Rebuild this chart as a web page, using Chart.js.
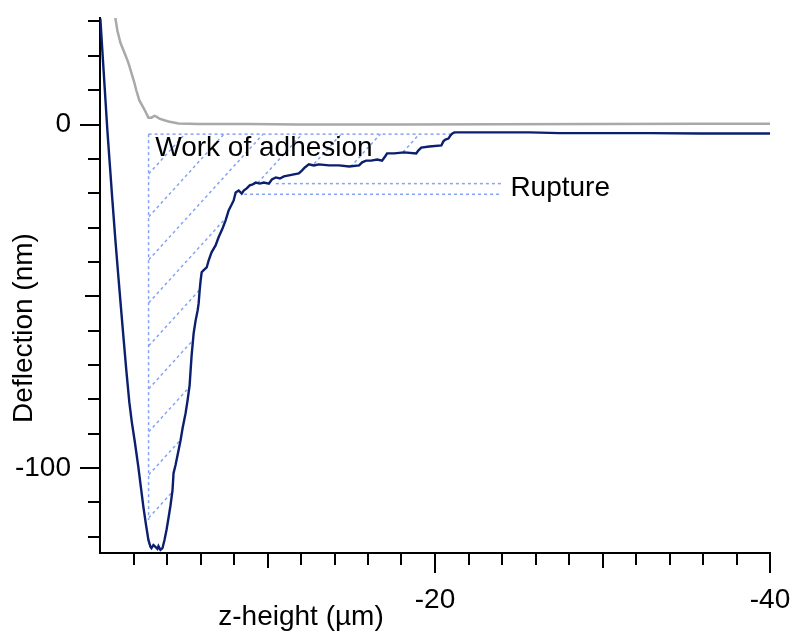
<!DOCTYPE html>
<html>
<head>
<meta charset="utf-8">
<script src="https://cdn.jsdelivr.net/npm/chart.js@4.4.0/dist/chart.umd.min.js"></script>
<style>
  html, body { margin: 0; padding: 0; background: #fff; }
</style>
</head>
<body>
<canvas id="chart_fd" width="794" height="633"></canvas>
<script>
// approach curve (grey)
const approach_z = [-0.90, -1.04, -1.22, -1.46, -1.69, -1.87, -2.05, -2.17, -2.35, -2.59, -2.77, -2.89, -3.07, -3.25,
    -3.37, -3.55, -3.79, -4.09, -4.39, -4.69, -5.89, -8.88, -11.87, -17.86, -23.85, -29.8, -35.8, -40.0]
const approach_defl = [31.5, 27.3, 23.8, 20.9, 18.0, 15.1, 12.2, 9.9, 7.0, 4.9, 3.2, 2.0, 2.0, 2.5,
    2.3, 1.7, 1.3, 0.9, 0.6, 0.3, 0.15, 0.15, 0.0, 0.0, 0.05, 0.15, 0.2, 0.2]

// retract curve (navy)
const retract_z = [
    -0.02, -0.14, -0.29, -0.44, -0.59, -0.74, -0.92, -1.10, -1.25, -1.40, -1.57, -1.75, -1.90, -2.08, -2.29, -2.44, -2.59, -2.74, -2.89, -3.01,
    -3.07, -3.19, -3.31, -3.43, -3.49, -3.61, -3.73, -3.85, -3.97,
    -4.09, -4.21, -4.33, -4.39, -4.51, -4.69, -4.81, -4.93, -5.11, -5.23, -5.35, -5.41, -5.47, -5.59, -5.71, -5.83, -5.89, -5.95, -6.01, -6.07,
    -6.19, -6.37, -6.49, -6.66, -6.90, -7.08, -7.32, -7.50, -7.68, -7.86, -7.98, -8.10, -8.28, -8.46, -8.58, -8.76, -8.94, -9.12, -9.30, -9.54,
    -9.78, -10.08, -10.26, -10.50, -10.74, -10.98, -11.28, -11.57, -11.87, -12.05, -12.23, -12.47, -12.77, -13.07, -13.67, -14.27, -14.87, -15.47, -15.65, -15.89,
    -16.19, -16.55, -16.84, -17.02, -17.14, -17.56, -18.16, -18.88, -19.00, -19.18, -19.66, -20.38, -20.50, -20.62, -20.80, -20.92, -21.04, -21.16,
    -22.05, -23.85, -25.65, -27.44, -29.84, -32.83, -35.83, -38.22, -40.0]
const retract_defl = [
    30.8, 21.5, 9.9, -1.7, -11.9, -22.1, -33.7, -44.5, -53.2, -61.9, -71.5, -80.8, -86.6, -92.4, -99.7, -105.5, -111.3, -116.3, -120.9, -122.9,
    -123.3, -122.4, -122.9, -123.5, -122.7, -123.8, -123.3, -120.9, -118.0,
    -114.5, -110.8, -106.4, -101.5, -99.1, -94.8, -91.9, -88.4, -84.0, -80.2, -75.9, -71.5, -67.2, -60.8, -57.0, -54.1, -52.0, -48.3, -45.3, -43.0,
    -42.4, -41.6, -39.5, -37.2, -35.2, -32.8, -30.2, -27.9, -25.0, -23.3, -22.1, -19.8, -19.2, -20.1, -19.2, -18.6, -17.7, -17.4, -16.9, -17.2,
    -16.9, -17.2, -16.0, -15.4, -15.7, -15.1, -14.8, -14.5, -14.2, -13.4, -12.5, -11.6, -11.9, -11.6, -11.9, -11.9, -12.2, -11.9, -11.0, -10.5,
    -10.5, -10.2, -10.5, -9.3, -8.4, -8.4, -8.1, -8.4, -7.6, -6.7, -6.4, -6.1, -4.9, -4.4, -4.1, -3.2, -2.6, -2.3,
    -2.3, -2.3, -2.3, -2.5, -2.5, -2.5, -2.6, -2.6, -2.6]

// levels used for the adhesion area and the rupture marks
const baseline_defl = -2.8
const contact_z = -2.9
const contact_bottom_defl = -115.1
const rupture_end_z = -21.0
const rupture_defl = [-17.2, -20.3]
const rupture_start_z = [-10.5, -8.6]
const rupture_stop_z = -24.0

const x_tick_labels = [-20, -40]
const y_tick_labels = [0, -100]

const font_family = "'Liberation Sans', Arial, sans-serif"
const dash_color = '#86a2f6'

function zip_points(xs, ys) {
    let pts = []
    for (let i = 0; i < xs.length; i++) {
        pts.push({ x: xs[i], y: ys[i] })
    }
    return pts
}

function dashed_line(points) {
    return {
        data: points,
        borderColor: dash_color,
        borderWidth: 1.5,
        borderDash: [3, 3],
        pointRadius: 0,
        order: 2
    }
}

// keep the plot box fixed, labels may run past it
function fix_scale(scale, size) {
    if (scale.isHorizontal()) scale.height = size
    else scale.width = size
    scale.paddingTop = 0
    scale.paddingBottom = 0
    scale.paddingLeft = 0
    scale.paddingRight = 0
}

// diagonal hatch inside the area between the retract curve and the baseline
const hatch_plugin = {
    id: 'hatch',
    beforeDatasetsDraw(chart) {
        const ctx = chart.ctx
        const sx = chart.scales.x
        const sy = chart.scales.y
        let i_min = 0
        for (let i = 1; i < retract_defl.length; i++) {
            if (retract_defl[i] < retract_defl[i_min]) i_min = i
        }
        ctx.save()
        ctx.beginPath()
        ctx.moveTo(sx.getPixelForValue(contact_z), sy.getPixelForValue(baseline_defl))
        ctx.lineTo(sx.getPixelForValue(contact_z), sy.getPixelForValue(contact_bottom_defl))
        for (let i = i_min; i < retract_z.length && retract_z[i] >= rupture_end_z; i++) {
            if (retract_defl[i] < contact_bottom_defl) continue
            ctx.lineTo(sx.getPixelForValue(retract_z[i]), sy.getPixelForValue(retract_defl[i]))
        }
        ctx.lineTo(sx.getPixelForValue(rupture_end_z), sy.getPixelForValue(baseline_defl))
        ctx.closePath()
        ctx.clip()

        ctx.strokeStyle = dash_color
        ctx.lineWidth = 1.5
        ctx.setLineDash([3, 3])
        const x0 = sx.getPixelForValue(contact_z)
        const y0 = sy.getPixelForValue(contact_bottom_defl) - 2
        const slope = 1.1
        const gap = 43
        for (let k = -2; k < 14; k++) {
            const ys = y0 - gap * k
            ctx.beginPath()
            ctx.moveTo(x0 - 20, ys + 20 * slope)
            ctx.lineTo(x0 + 700, ys - 700 * slope)
            ctx.stroke()
        }
        ctx.restore()
    }
}

// tick marks, annotation text and axis titles
const marks_plugin = {
    id: 'marks',
    afterDraw(chart) {
        const ctx = chart.ctx
        const sx = chart.scales.x
        const sy = chart.scales.y
        const area = chart.chartArea
        ctx.save()
        ctx.strokeStyle = '#000'
        ctx.lineWidth = 2
        ctx.beginPath()
        for (let v = -2; v >= -40; v -= 2) {
            let len = 12
            if (x_tick_labels.includes(v)) len = 20
            else if (v % 10 == 0) len = 15
            const px = Math.round(sx.getPixelForValue(v))
            ctx.moveTo(px, area.bottom)
            ctx.lineTo(px, area.bottom + len)
        }
        for (let v = -120; v <= 30; v += 10) {
            let len = 12
            if (y_tick_labels.includes(v)) len = 20
            else if (v % 50 == 0) len = 15
            const py = Math.round(sy.getPixelForValue(v))
            ctx.moveTo(area.left, py)
            ctx.lineTo(area.left - len, py)
        }
        ctx.stroke()

        ctx.fillStyle = '#000'
        ctx.font = '28px ' + font_family
        ctx.textBaseline = 'alphabetic'
        ctx.textAlign = 'left'
        ctx.fillText('Work of adhesion', sx.getPixelForValue(-3.3), sy.getPixelForValue(-9.3))
        ctx.fillText('Rupture', sx.getPixelForValue(-24.5), sy.getPixelForValue(-20.9))

        ctx.textAlign = 'center'
        ctx.fillText('z-height (µm)', 301, 625)
        ctx.translate(32, 328)
        ctx.rotate(-Math.PI / 2)
        ctx.fillText('Deflection (nm)', 0, 0)
        ctx.restore()
    }
}

function create_chart() {
    const canvas = document.querySelector('#chart_fd')
    new Chart(canvas, {
        type: 'line',
        data: {
            datasets: [
                {
                    data: zip_points(retract_z, retract_defl),
                    borderColor: '#0a1f6e',
                    borderWidth: 2.4,
                    pointRadius: 0,
                    order: 0
                },
                {
                    data: zip_points(approach_z, approach_defl),
                    borderColor: '#a9a9a9',
                    borderWidth: 2.5,
                    pointRadius: 0,
                    order: 1
                },
                dashed_line([{ x: contact_z, y: baseline_defl }, { x: rupture_end_z, y: baseline_defl }]),
                dashed_line([{ x: contact_z, y: baseline_defl }, { x: contact_z, y: contact_bottom_defl }]),
                dashed_line([{ x: rupture_start_z[0], y: rupture_defl[0] }, { x: rupture_stop_z, y: rupture_defl[0] }]),
                dashed_line([{ x: rupture_start_z[1], y: rupture_defl[1] }, { x: rupture_stop_z, y: rupture_defl[1] }])
            ]
        },
        options: {
            responsive: false,
            animation: false,
            devicePixelRatio: 1,
            layout: { padding: { top: 18, right: 24, left: 0, bottom: 0 } },
            plugins: {
                legend: { display: false },
                tooltip: { enabled: false }
            },
            scales: {
                x: {
                    type: 'linear',
                    min: -40,
                    max: 0,
                    reverse: true,
                    afterFit: (scale) => fix_scale(scale, 80),
                    border: { display: true, color: '#000', width: 2 },
                    grid: { display: false, drawTicks: false },
                    ticks: {
                        stepSize: 10,
                        autoSkip: false,
                        maxRotation: 0,
                        padding: 30,
                        color: '#000',
                        font: { family: font_family, size: 28 },
                        callback: (v) => x_tick_labels.includes(v) ? String(v) : ''
                    }
                },
                y: {
                    min: -124.7,
                    max: 31,
                    afterFit: (scale) => fix_scale(scale, 100),
                    border: { display: true, color: '#000', width: 2 },
                    grid: { display: false, drawTicks: false },
                    ticks: {
                        stepSize: 10,
                        autoSkip: false,
                        padding: 29,
                        color: '#000',
                        font: { family: font_family, size: 28 },
                        callback: (v) => y_tick_labels.includes(v) ? String(v) : ''
                    }
                }
            }
        },
        plugins: [hatch_plugin, marks_plugin]
    })
}

create_chart()
</script>
</body>
</html>
